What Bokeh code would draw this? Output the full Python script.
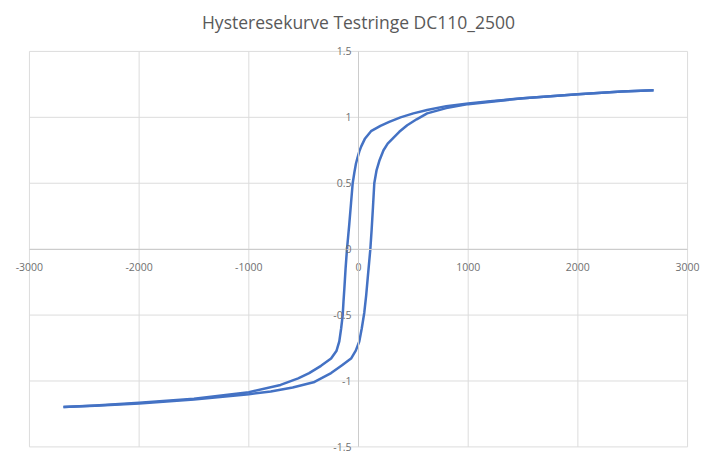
from bokeh.plotting import figure
from bokeh.models import Range1d, FixedTicker, CustomJSTickFormatter
from bokeh.embed import file_html
from bokeh.resources import INLINE

# Descending branch (from positive saturation to negative saturation)
h_down = [2690, 2400, 2000, 1500, 1200, 1000, 800, 626, 500, 383, 280, 200, 114, 60, 25, 7,
          -10, -23, -38, -53, -68, -84, -95, -105, -118, -129, -137, -144, -158, -175,
          -200, -250, -342, -450, -550, -711, -1000, -1500, -2000, -2400, -2690]
b_down = [1.205, 1.195, 1.175, 1.145, 1.122, 1.105, 1.085, 1.055, 1.03, 1.0, 0.965, 0.935, 0.895, 0.84, 0.78, 0.74,
          0.69, 0.65, 0.58, 0.50, 0.35, 0.19, 0.09, 0.0, -0.15, -0.30, -0.40, -0.50, -0.60, -0.70,
          -0.77, -0.83, -0.885, -0.94, -0.98, -1.03, -1.085, -1.135, -1.165, -1.185, -1.197]

# Ascending branch (from negative saturation back to positive saturation)
h_up = [-2690, -2400, -2000, -1500, -1000, -800, -600, -410, -250, -150, -68, -25, 7, 30, 53,
        70, 84, 97, 108, 120, 132, 144, 165, 190, 228, 266, 372, 444, 530, 626, 800, 1000,
        1500, 2000, 2400, 2690]
b_up = [-1.197, -1.188, -1.17, -1.14, -1.10, -1.08, -1.05, -1.01, -0.94, -0.88, -0.83, -0.77, -0.70, -0.60, -0.48,
        -0.35, -0.22, -0.10, 0.0, 0.15, 0.32, 0.50, 0.60, 0.67, 0.75, 0.80, 0.89, 0.94, 0.985, 1.03, 1.07, 1.10,
        1.145, 1.175, 1.195, 1.205]

x_ticks = [-3000, -2000, -1000, 0, 1000, 2000, 3000]
y_ticks = [-1.5, -1, -0.5, 0, 0.5, 1, 1.5]

title_text = "Hysteresekurve Testringe DC110_2500"

p = figure(width=722, height=453, output_backend="svg", toolbar_location=None,
           x_range=Range1d(-3200, 3200), y_range=Range1d(-1.55, 1.56),
           min_border_left=7, min_border_right=13, min_border_top=43, min_border_bottom=0,
           title=title_text)

p.title.align = "center"
p.title.vertical_align = "top"
p.title.text_font = "Open Sans"
p.title.text_font_size = "17.5px"
p.title.text_font_style = "normal"
p.title.text_color = "#595959"
p.title.standoff = 16

p.outline_line_color = None
p.background_fill_color = "white"
p.border_fill_color = "white"
p.xgrid.visible = False
p.ygrid.visible = False

grid_color = "#dcdcdc"
# gridlines drawn from the tick arrays, limited to the chart's value box
p.segment(x0=x_ticks, x1=x_ticks, y0=[y_ticks[0]] * len(x_ticks), y1=[y_ticks[-1]] * len(x_ticks),
          line_color=grid_color, line_width=1)
p.segment(x0=[x_ticks[0]] * len(y_ticks), x1=[x_ticks[-1]] * len(y_ticks), y0=y_ticks, y1=y_ticks,
          line_color=grid_color, line_width=1)

fmt = CustomJSTickFormatter(code="return String(tick);")

for ax in (p.xaxis[0], p.yaxis[0]):
    ax.fixed_location = 0
    ax.axis_line_color = "#cccccc"
    ax.axis_line_width = 1
    ax.major_tick_in = 0
    ax.major_tick_out = 0
    ax.minor_tick_in = 0
    ax.minor_tick_out = 0
    ax.major_label_text_font = "Open Sans"
    ax.major_label_text_font_size = "10.5px"
    ax.major_label_text_color = "#707070"
    ax.formatter = fmt

p.xaxis[0].ticker = FixedTicker(ticks=x_ticks)
p.yaxis[0].ticker = FixedTicker(ticks=y_ticks)
p.xaxis[0].bounds = (x_ticks[0], x_ticks[-1])
p.yaxis[0].bounds = (y_ticks[0], y_ticks[-1])
p.xaxis[0].major_label_standoff = 14
p.yaxis[0].major_label_standoff = 7

p.line(h_down, b_down, line_color="#4472c4", line_width=2.5, line_join="round")
p.line(h_up, b_up, line_color="#4472c4", line_width=2.5, line_join="round")

open("out.html", "w").write(file_html(p, INLINE))
